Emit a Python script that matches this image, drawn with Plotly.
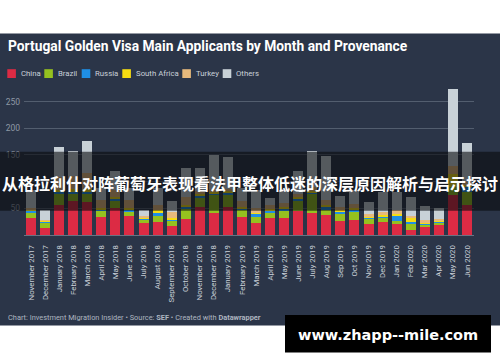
import plotly.graph_objects as go

months = ["November 2017", "December 2017", "January 2018", "February 2018", "March 2018",
          "April 2018", "May 2018", "June 2018", "July 2018", "August 2018",
          "September 2018", "October 2018", "November 2018", "December 2018",
          "January 2019", "February 2019", "March 2019", "April 2019", "May 2019",
          "June 2019", "July 2019", "Aug 2019", "Sep 2019", "Oct 2019", "Nov 2019",
          "Dec 2019", "Jan 2020", "Feb 2020", "Mar 2020", "Apr 2020", "May 2020", "Jun 2020"]

china = [31, 14, 56, 63, 62, 34, 50, 36, 22, 25, 16, 30, 53, 42, 53, 33,
         22, 31, 31, 45, 41, 37, 27, 28, 20, 25, 20, 10, 15, 18, 75, 56]
brazil = [11, 9, 20, 14, 14, 11, 14, 8, 7, 11, 12, 18, 16, 33, 22, 14,
          12, 12, 15, 20, 36, 10, 14, 16, 10, 6, 7, 12, 4, 6, 15, 25]
russia = [3, 2, 4, 4, 4, 3, 3, 2, 1, 7, 1, 4, 5, 3, 4, 3,
          6, 2, 3, 3, 3, 6, 3, 4, 2, 4, 10, 3, 2, 2, 0, 9]
south_africa = [2, 2, 4, 5, 6, 3, 4, 5, 3, 3, 2, 4, 3, 3, 3, 3,
                2, 3, 3, 3, 3, 3, 3, 3, 2, 3, 3, 6, 2, 2, 25, 3]
turkey = [4, 2, 24, 24, 30, 14, 13, 15, 2, 10, 12, 16, 5, 6, 5, 10,
          8, 8, 8, 6, 6, 10, 6, 8, 5, 6, 6, 5, 5, 2, 15, 6]
others = [33, 18, 56, 48, 60, 23, 36, 22, 11, 32, 21, 53, 43, 63, 60, 25,
          34, 13, 24, 42, 68, 82, 21, 25, 23, 36, 34, 36, 26, 20, 143, 74]

series_names = ["China", "Brazil", "Russia", "South Africa", "Turkey", "Others"]
series_values = [china, brazil, russia, south_africa, turkey, others]
series_colors = ["#dc2b44", "#95c11f", "#1f8fe5", "#f5dc12", "#e6b97c", "#c8d1d7"]

y_ticks = [50, 100, 150, 200, 250]
# the "100" label sits hidden under the banner in the reference
y_tick_labels = ["50", "", "150", "200", "250"]

title_text = "Portugal Golden Visa Main Applicants by Month and Provenance"
footer_text = ("Chart: Investment Migration Insider • Source: <b>SEF</b> • "
               "Created with <b>Datawrapper</b>")
banner_text = "从格拉利什对阵葡萄牙表现看法甲整体低迷的深层原因解析与启示探讨"
watermark_text = "www.zhapp--mile.com"

BG = "#2b3548"

fig = go.Figure()
for name, vals, col in zip(series_names, series_values, series_colors):
    fig.add_bar(x=months, y=vals, name=name, marker_color=col, marker_line_width=0)

L, R, T, B = 24, 474, 85, 235
W, H = R - L, B - T


def px(x):
    return (x - L) / W


def py(y):
    return (B - y) / H


shapes = [
    dict(type="rect", xref="paper", yref="paper", x0=px(0), x1=px(500), y0=py(325.5), y1=py(33.5),
         fillcolor=BG, line_width=0, layer="below"),
    dict(type="rect", xref="paper", yref="paper", x0=px(0), x1=px(500), y0=py(210.7), y1=py(151.7),
         fillcolor="rgba(8,10,14,0.6)", line_width=0, layer="above"),
    dict(type="rect", xref="paper", yref="paper", x0=px(285), x1=px(491), y0=py(352.5), y1=py(315),
         fillcolor="#000000", line_width=0, layer="above"),
]

annotations = [
    dict(text=f"<b>{title_text}</b>", xref="paper", yref="paper", x=px(6), y=py(46),
         xanchor="left", yanchor="middle", showarrow=False,
         font=dict(family="Roboto", size=13.8, color="#ffffff")),
    dict(text=footer_text, xref="paper", yref="paper", x=px(6), y=py(317),
         xanchor="left", yanchor="middle", showarrow=False,
         font=dict(family="Roboto", size=7.4, color="#aeb6c0")),
    dict(text=f"<b>{banner_text}</b>", xref="paper", yref="paper", x=px(250), y=py(182.5),
         xanchor="center", yanchor="middle", showarrow=False,
         font=dict(family="Noto Sans CJK SC", size=16, color="#ffffff")),
    dict(text=f"<b>{watermark_text}</b>", xref="paper", yref="paper", x=px(387.5), y=py(335),
         xanchor="center", yanchor="middle", showarrow=False,
         font=dict(family="DejaVu Sans", size=14.5, color="#ffffff")),
]

legend_sq_x = [7.3, 44.3, 81.7, 122.3, 182.3, 222.7]
for name, col, sx in zip(series_names, series_colors, legend_sq_x):
    shapes.append(dict(type="rect", xref="paper", yref="paper", x0=px(sx), x1=px(sx + 8.6),
                       y0=py(78), y1=py(69.2), fillcolor=col, line_width=0, layer="above"))
    annotations.append(dict(text=name, xref="paper", yref="paper", x=px(sx + 11.5), y=py(73.8),
                            xanchor="left", yanchor="middle", showarrow=False,
                            font=dict(family="Roboto", size=7.8, color="#c9d0d8")))

fig.update_layout(
    barmode="stack", bargap=0.29,
    width=500, height=362,
    margin=dict(l=L, r=500 - R, t=T, b=362 - B, pad=0, autoexpand=False),
    paper_bgcolor="#ffffff", plot_bgcolor="rgba(0,0,0,0)",
    showlegend=False,
    font=dict(family="Roboto"),
    shapes=shapes, annotations=annotations,
)
fig.update_xaxes(tickangle=-90, ticks="", tickfont=dict(size=7.8, color="#c9d0d8"),
                 ticklabelstandoff=6, showgrid=False, showline=True, linecolor="#6a7383",
                 linewidth=1, automargin=False)
fig.update_yaxes(range=[0, 281], tickvals=y_ticks, ticktext=y_tick_labels, ticks="",
                 showline=False, gridcolor="#535e6f", gridwidth=1, zeroline=False,
                 automargin=False, tickfont=dict(size=8.5, color="#8f99a6"), ticklabelstandoff=3)

fig.write_html("out.html", config={"displayModeBar": False},
               post_script="document.body.style.margin='0';document.body.style.overflow='hidden';")
